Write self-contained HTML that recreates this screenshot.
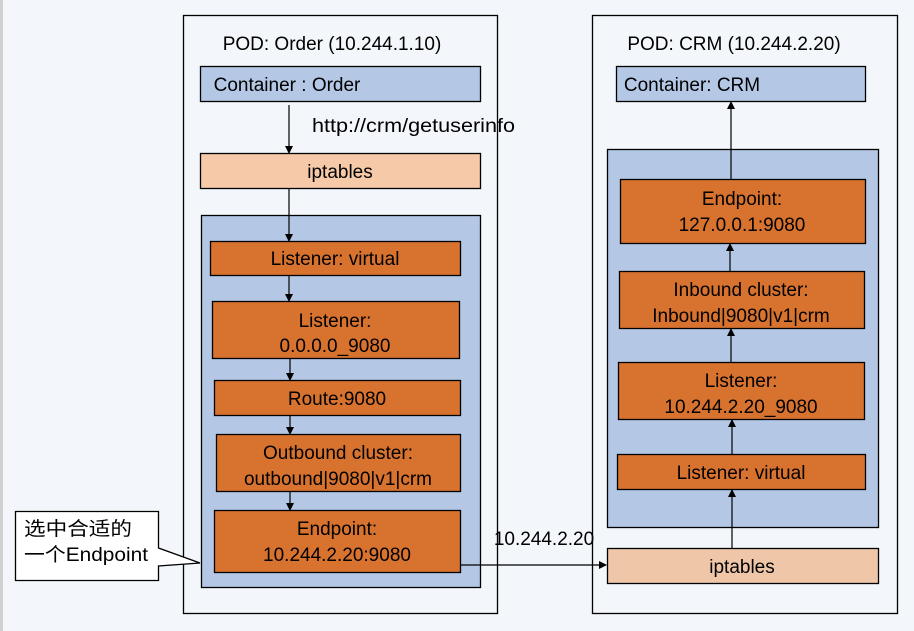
<!DOCTYPE html>
<html><head><meta charset="utf-8"><style>
html,body{margin:0;padding:0;width:914px;height:631px;overflow:hidden;background:#f3f6fa}
svg{display:block}
text{font-family:"Liberation Sans","Noto Sans CJK SC",sans-serif;font-size:19px;fill:#000}
</style></head><body>
<svg width="914" height="631" viewBox="0 0 914 631" xmlns="http://www.w3.org/2000/svg">
<defs><marker id="a" markerWidth="8" markerHeight="8" refX="7" refY="4" orient="auto" markerUnits="userSpaceOnUse"><path d="M0,0 L8,4 L0,8z" fill="#000"/></marker></defs>
<rect x="0" y="0" width="3" height="631" fill="#d0d0d0"/>
<g stroke="#000" stroke-width="1.3">
<rect x="183.5" y="15.5" width="314" height="598" fill="none"/>
<rect x="592.5" y="15.5" width="305" height="598" fill="none"/>
<rect x="200.5" y="66.5" width="280" height="35" fill="#b4c8e6"/>
<rect x="200.5" y="153.5" width="280" height="35" fill="#f6caa9"/>
<rect x="201.5" y="215.5" width="279" height="372" fill="#b4c8e6"/>
<g fill="#d8722f">
<rect x="210.5" y="241.5" width="250" height="34"/>
<rect x="212.5" y="301.5" width="247" height="57"/>
<rect x="214.5" y="380.5" width="246" height="35"/>
<rect x="216.5" y="434.5" width="244" height="57"/>
<rect x="214.5" y="510.5" width="246" height="62"/>
</g>
<rect x="616.5" y="66.5" width="249" height="35" fill="#b4c8e6"/>
<rect x="607.5" y="149.5" width="271" height="378" fill="#b4c8e6"/>
<g fill="#d8722f">
<rect x="620.5" y="179.5" width="245" height="64"/>
<rect x="619.5" y="271.5" width="245" height="57"/>
<rect x="618.5" y="362.5" width="246" height="57"/>
<rect x="617.5" y="454.5" width="248" height="35"/>
</g>
<rect x="607.5" y="548.5" width="271" height="35" fill="#f0c6a9"/>
<path d="M15.5,511.5 H158.5 V548 L200,563 L158.5,566 V580.5 H15.5 Z" fill="#fff"/>
</g>
<g stroke="#000" stroke-width="1.2" fill="none" marker-end="url(#a)">
<line x1="289" y1="105" x2="289" y2="153"/>
<line x1="289" y1="188" x2="289" y2="241"/>
<line x1="289" y1="275" x2="289" y2="301"/>
<line x1="290" y1="358" x2="290" y2="380"/>
<line x1="290" y1="415" x2="290" y2="434"/>
<line x1="290" y1="491" x2="290" y2="510"/>
<line x1="460" y1="565" x2="606" y2="565"/>
<line x1="732" y1="548" x2="732" y2="490"/>
<line x1="732" y1="454" x2="732" y2="420"/>
<line x1="731" y1="362" x2="731" y2="329"/>
<line x1="730" y1="271" x2="730" y2="244"/>
<line x1="731" y1="179" x2="731" y2="102"/>
</g>
<g text-anchor="middle">
<text x="332" y="50">POD: Order (10.244.1.10)</text>
<text x="287" y="91">Container : Order</text>
<text x="340" y="178">iptables</text>
<text x="335" y="265">Listener: virtual</text>
<text x="335" y="327">Listener:</text>
<text x="335" y="352">0.0.0.0_9080</text>
<text x="337" y="405">Route:9080</text>
<text x="338" y="459">Outbound cluster:</text>
<text x="338" y="485">outbound|9080|v1|crm</text>
<text x="337" y="535">Endpoint:</text>
<text x="337" y="561">10.244.2.20:9080</text>
<text x="734" y="50">POD: CRM (10.244.2.20)</text>
<text x="692" y="91">Container: CRM</text>
<text x="742" y="205">Endpoint:</text>
<text x="742" y="231">127.0.0.1:9080</text>
<text x="741" y="296">Inbound cluster:</text>
<text x="741" y="322">Inbound|9080|v1|crm</text>
<text x="741" y="387">Listener:</text>
<text x="741" y="413">10.244.2.20_9080</text>
<text x="741" y="479">Listener: virtual</text>
<text x="742" y="573">iptables</text>
<text x="544" y="545">10.244.2.20</text>
</g>
<text x="312" y="132" textLength="203" lengthAdjust="spacingAndGlyphs">http://crm/getuserinfo</text>
<text x="24" y="535" textLength="108" lengthAdjust="spacingAndGlyphs">选中合适的</text>
<text x="24" y="561" textLength="124" lengthAdjust="spacingAndGlyphs">一个Endpoint</text>
</svg>
</body></html>
